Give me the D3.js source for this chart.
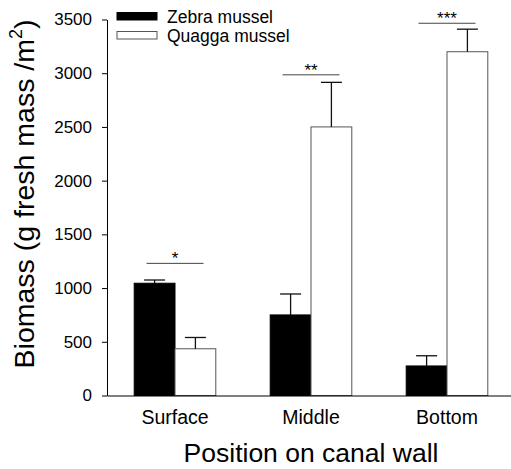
<!DOCTYPE html>
<html>
<head>
<meta charset="utf-8">
<script src="https://cdn.jsdelivr.net/npm/d3@7"></script>
<style>
  body { margin: 0; background: #fff; }
  svg { font-family: 'Liberation Sans', Arial, sans-serif; }
</style>
</head>
<body>
<div id="graf"></div>
<script>
// datos
const posiciones = ['Surface', 'Middle', 'Bottom']
const especies = ['Zebra mussel', 'Quagga mussel']
const zebraMedia = [1045, 750, 275]
const zebraEE = [30, 195, 95]
const quaggaMedia = [435, 2500, 3200]
const quaggaEE = [105, 415, 210]
const signif = ['*', '**', '***']
const signifAltura = [1230, 2985, 3465]
const yTicks = [0, 500, 1000, 1500, 2000, 2500, 3000, 3500]

const anchoTotal = 511
const altoTotal = 469

const svg = d3
  .select('#graf')
  .append('svg')
  .attr('width', anchoTotal)
  .attr('height', altoTotal)

// !ESCALADORES
const x = d3
  .scaleBand()
  .domain(posiciones)
  .range([107, 515])
  .paddingInner(0.4)
  .paddingOuter(0.2)

const sub = d3.scaleBand().domain(especies).range([0, x.bandwidth()])

const y = d3.scaleLinear().domain([0, 3500]).range([395.5, 19.5])

const color = d3.scaleOrdinal().domain(especies).range(['#000000', '#ffffff'])

const datos = []
posiciones.forEach((p, i) => {
  datos.push({ pos: p, esp: especies[0], media: zebraMedia[i], ee: zebraEE[i] })
  datos.push({ pos: p, esp: especies[1], media: quaggaMedia[i], ee: quaggaEE[i] })
})

// !BARRAS
const barras = svg.append('g')

barras
  .selectAll('rect')
  .data(datos)
  .enter()
  .append('rect')
  .attr('x', (d) => x(d.pos) + sub(d.esp))
  .attr('y', (d) => y(d.media))
  .attr('width', sub.bandwidth())
  .attr('height', (d) => y(0) - y(d.media))
  .attr('fill', (d) => color(d.esp))
  .attr('stroke', (d) => (d.esp === especies[0] ? '#000' : '#555'))
  .attr('stroke-width', 1)

// !BARRAS DE ERROR
const errores = svg.append('g').attr('stroke', '#111').attr('stroke-width', 1.3)

errores
  .selectAll('line.v')
  .data(datos)
  .enter()
  .append('line')
  .attr('x1', (d) => x(d.pos) + sub(d.esp) + sub.bandwidth() / 2)
  .attr('x2', (d) => x(d.pos) + sub(d.esp) + sub.bandwidth() / 2)
  .attr('y1', (d) => y(d.media))
  .attr('y2', (d) => y(d.media + d.ee))

errores
  .selectAll('line.h')
  .data(datos)
  .enter()
  .append('line')
  .attr('x1', (d) => x(d.pos) + sub(d.esp) + sub.bandwidth() / 2 - 10.5)
  .attr('x2', (d) => x(d.pos) + sub(d.esp) + sub.bandwidth() / 2 + 10.5)
  .attr('y1', (d) => y(d.media + d.ee))
  .attr('y2', (d) => y(d.media + d.ee))

// !SIGNIFICANCIA
const sig = svg.append('g')

sig
  .selectAll('line')
  .data(posiciones)
  .enter()
  .append('line')
  .attr('x1', (d) => x(d) + x.bandwidth() / 2 - 28.5)
  .attr('x2', (d) => x(d) + x.bandwidth() / 2 + 28.5)
  .attr('y1', (d, i) => y(signifAltura[i]))
  .attr('y2', (d, i) => y(signifAltura[i]))
  .attr('stroke', '#444')
  .attr('stroke-width', 1)

sig
  .selectAll('text')
  .data(posiciones)
  .enter()
  .append('text')
  .attr('x', (d) => x(d) + x.bandwidth() / 2)
  .attr('y', (d, i) => y(signifAltura[i]) + 1)
  .attr('text-anchor', 'middle')
  .attr('font-size', 17)
  .text((d, i) => signif[i])

// !EJES
const ejeY = svg
  .append('g')
  .attr('transform', 'translate(107, 0)')
  .call(
    d3
      .axisLeft(y)
      .tickValues(yTicks)
      .tickSize(5)
      .tickSizeOuter(0)
      .tickPadding(10)
      .tickFormat(d3.format('d'))
  )

ejeY.selectAll('text').attr('font-size', 17).attr('fill', '#000').attr('font-family', null)
ejeY.selectAll('line, path').attr('stroke', '#000')

const ejeX = svg
  .append('g')
  .attr('transform', `translate(0, ${y(0)})`)
  .call(d3.axisBottom(x).tickSize(0).tickPadding(15))

ejeX.selectAll('text').attr('font-size', 19.5).attr('fill', '#000').attr('font-family', null)
ejeX.select('path').attr('stroke', '#000')

// !TITULOS
svg
  .append('text')
  .attr('x', 311)
  .attr('y', 461.5)
  .attr('text-anchor', 'middle')
  .attr('font-size', 26.5)
  .text('Position on canal wall')

const tituloY = svg
  .append('text')
  .attr('transform', 'translate(34, 194) rotate(-90)')
  .attr('text-anchor', 'middle')
  .attr('font-size', 28.5)

tituloY.append('tspan').text('Biomass (g fresh mass /m')
tituloY.append('tspan').attr('font-size', 18).attr('dy', -12).text('2')
tituloY.append('tspan').attr('dy', 12).text(')')

// !LEYENDA
const leyenda = svg
  .append('g')
  .selectAll('g')
  .data(especies)
  .enter()
  .append('g')
  .attr('transform', (d, i) => `translate(117, ${12.5 + i * 19})`)

leyenda
  .append('rect')
  .attr('width', 40)
  .attr('height', 7.5)
  .attr('fill', (d) => color(d))
  .attr('stroke', (d) => (d === especies[0] ? '#000' : '#555'))

leyenda
  .append('text')
  .attr('x', 50)
  .attr('y', 10)
  .attr('font-size', 17.5)
  .text((d) => d)
</script>
</body>
</html>
